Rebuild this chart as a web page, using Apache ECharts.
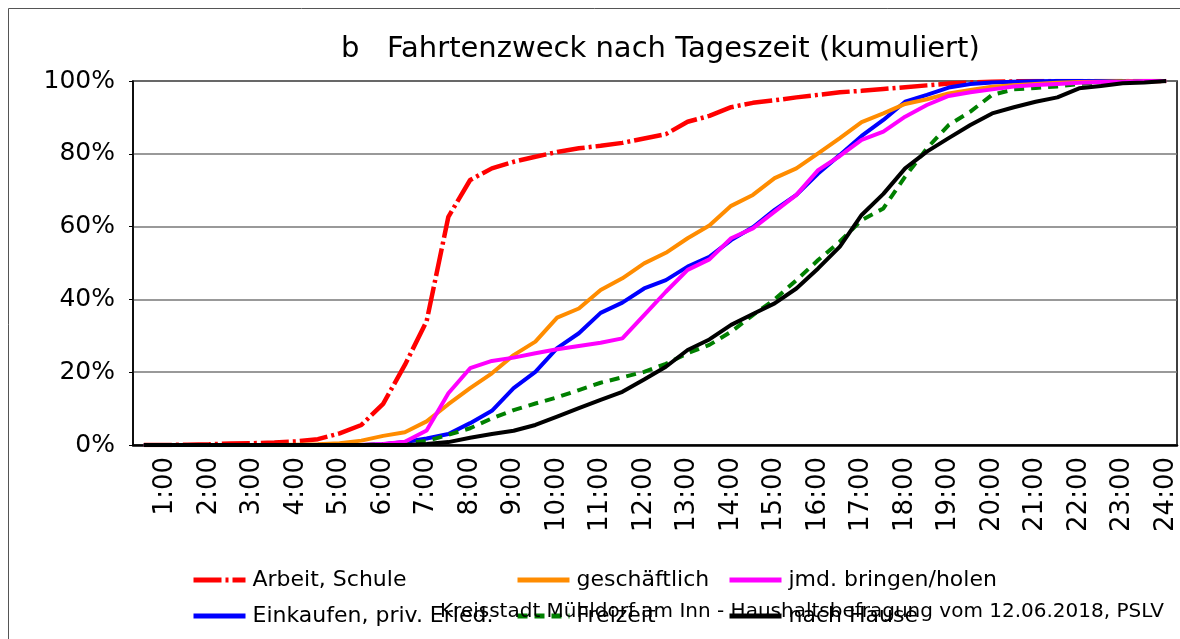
<!DOCTYPE html>
<html>
<head>
<meta charset="utf-8">
<script src="https://cdn.jsdelivr.net/npm/echarts@6/dist/echarts.min.js"></script>
<style>
  html, body { margin: 0; padding: 0; background: #fff; }
  #chart { width: 1180px; height: 639px; }
</style>
</head>
<body>
<div id="chart"></div>
<script>
// half-hour steps, only the full hours get a label
const times = ['0:30', '1:00', '1:30', '2:00', '2:30', '3:00', '3:30', '4:00', '4:30', '5:00', '5:30', '6:00',
  '6:30', '7:00', '7:30', '8:00', '8:30', '9:00', '9:30', '10:00', '10:30', '11:00', '11:30', '12:00',
  '12:30', '13:00', '13:30', '14:00', '14:30', '15:00', '15:30', '16:00', '16:30', '17:00', '17:30', '18:00',
  '18:30', '19:00', '19:30', '20:00', '20:30', '21:00', '21:30', '22:00', '22:30', '23:00', '23:30', '24:00']

const yTicks = [0, 20, 40, 60, 80, 100]

// kumulierte Anteile in %
const arbeitSchule = [0, 0, 0.1, 0.2, 0.4, 0.5, 0.7, 1.0, 1.6, 3.2, 5.5, 11.3,
  22, 34, 62.7, 72.8, 76, 77.8, 79.2, 80.5, 81.5, 82.2, 83, 84.2,
  85.4, 88.8, 90.4, 92.8, 94, 94.7, 95.5, 96.2, 96.9, 97.3, 97.8, 98.3,
  98.8, 99.3, 99.6, 99.8, 99.9, 100, 100, 100, 100, 100, 100, 100]
const einkaufen = [0, 0, 0, 0, 0, 0, 0, 0, 0, 0, 0, 0.2,
  0.8, 1.8, 3, 6, 9.4, 15.6, 20.1, 26.6, 30.7, 36.3, 39.1, 43,
  45.3, 49, 51.7, 56.3, 59.8, 64.6, 68.7, 74.6, 79.7, 84.9, 89.3, 94.3,
  96.2, 98.2, 99.2, 99.6, 99.8, 99.9, 100, 100, 100, 100, 100, 100]
const geschaeftlich = [0, 0, 0, 0, 0, 0, 0, 0.1, 0.2, 0.5, 1.2, 2.5,
  3.5, 6.5, 11.2, 15.6, 19.7, 24.7, 28.4, 35, 37.5, 42.6, 45.8, 49.9,
  52.8, 56.8, 60.3, 65.7, 68.7, 73.3, 76, 80.1, 84.3, 88.7, 91.1, 93.7,
  95, 96.6, 97.5, 98.4, 98.8, 99.2, 99.5, 99.7, 99.8, 99.9, 100, 100]
const freizeit = [0, 0, 0, 0, 0, 0, 0, 0, 0, 0, 0, 0.2,
  0.5, 1.1, 2.8, 4.6, 7.3, 9.6, 11.4, 13.1, 15.1, 17.1, 18.6, 20.1,
  22.3, 25.2, 27.5, 31.1, 35.7, 40, 45.3, 50.8, 55.9, 61.8, 65, 73.7,
  81.5, 87.9, 91.6, 96.2, 97.7, 98.1, 98.5, 99.2, 99.6, 99.8, 100, 100]
const bringenHolen = [0, 0, 0, 0, 0, 0, 0, 0, 0, 0, 0, 0.3,
  0.9, 4, 14.2, 21.1, 23.1, 24, 25.2, 26.3, 27.2, 28.1, 29.3, 35.7,
  42.1, 48.1, 51, 56.8, 59.5, 64.1, 68.7, 75.5, 79.4, 83.8, 86.1, 90.2,
  93.4, 95.9, 96.9, 97.7, 98.5, 98.9, 99.2, 99.5, 99.7, 99.8, 100, 100]
const nachHause = [0, 0, 0, 0, 0, 0, 0, 0, 0, 0, 0, 0,
  0, 0.3, 0.8, 2, 3, 3.9, 5.5, 7.8, 10.1, 12.4, 14.6, 18,
  21.5, 26.1, 29, 33, 36, 38.9, 43, 48.5, 54.5, 63.2, 69, 76,
  80.6, 84.3, 87.9, 91.1, 92.8, 94.3, 95.5, 98, 98.6, 99.4, 99.6, 100]

const font = 'DejaVu Sans'

function line(name, data, color, type, width) {
  return {
    name: name,
    type: 'line',
    data: data,
    symbol: 'none',
    lineStyle: { color: color, width: width, type: type, cap: 'butt' },
    itemStyle: { color: color }
  }
}

function legendItem(name, left, top) {
  return {
    data: [name],
    left: left,
    top: top,
    itemWidth: 52,
    itemHeight: 14,
    itemGap: 10,
    selectedMode: false,
    itemStyle: { opacity: 0 },
    lineStyle: { width: 5 },
    textStyle: { fontFamily: font, fontSize: 22, color: '#000', padding: [0, 0, 0, 2] }
  }
}

const chart = echarts.init(document.getElementById('chart'))
chart.setOption({
  animation: false,
  backgroundColor: '#fff',
  title: {
    text: 'b   Fahrtenzweck nach Tageszeit (kumuliert)',
    left: 336,
    top: 30,
    textStyle: { fontFamily: font, fontSize: 29, fontWeight: 'normal', color: '#000' }
  },
  graphic: [
    {
      type: 'rect',
      shape: { x: 8.5, y: 8.5, width: 1200, height: 700 },
      style: { fill: 'none', stroke: '#555', lineWidth: 1 }
    },
    {
      type: 'text',
      x: 440,
      y: 612,
      z: 10,
      style: {
        text: 'Kreisstadt Mühldorf am Inn - Haushaltsbefragung vom 12.06.2018, PSLV',
        fontFamily: font,
        fontSize: 20,
        fill: '#000',
        verticalAlign: 'middle'
      }
    }
  ],
  legend: [
    legendItem('Arbeit, Schule', 186, 564),
    legendItem('geschäftlich', 510, 564),
    legendItem('jmd. bringen/holen', 722, 564),
    legendItem('Einkaufen, priv. Erled.', 186, 600),
    legendItem('Freizeit', 510, 600),
    legendItem('nach Hause', 722, 600)
  ],
  grid: {
    left: 133,
    right: 3,
    top: 81,
    bottom: 194,
    show: true,
    borderColor: '#000',
    borderWidth: 1.5
  },
  xAxis: {
    type: 'category',
    data: times,
    boundaryGap: true,
    axisLine: { lineStyle: { color: '#000', width: 2.5 } },
    axisTick: { show: false },
    axisLabel: {
      rotate: 90,
      margin: 12,
      fontFamily: font,
      fontSize: 26,
      color: '#000',
      interval: function (idx, value) { return value.endsWith(':00') }
    }
  },
  yAxis: {
    type: 'value',
    min: yTicks[0],
    max: yTicks[yTicks.length - 1],
    interval: 20,
    axisLine: { show: true, lineStyle: { color: '#000', width: 1.5 } },
    axisTick: { show: true, length: 4, lineStyle: { color: '#000' } },
    splitLine: { lineStyle: { color: '#777', width: 1.5 } },
    axisLabel: {
      margin: 18,
      fontFamily: font,
      fontSize: 25,
      color: '#000',
      formatter: '{value}%'
    }
  },
  series: [
    line('Arbeit, Schule', arbeitSchule, '#ff0000', [28, 4, 3, 4], 4.5),
    line('Einkaufen, priv. Erled.', einkaufen, '#0000ff', 'solid', 4),
    line('geschäftlich', geschaeftlich, '#ff8c00', 'solid', 4),
    line('Freizeit', freizeit, '#008000', [10, 7], 4),
    line('jmd. bringen/holen', bringenHolen, '#ff00ff', 'solid', 4),
    line('nach Hause', nachHause, '#000000', 'solid', 4)
  ]
})
</script>
</body>
</html>
